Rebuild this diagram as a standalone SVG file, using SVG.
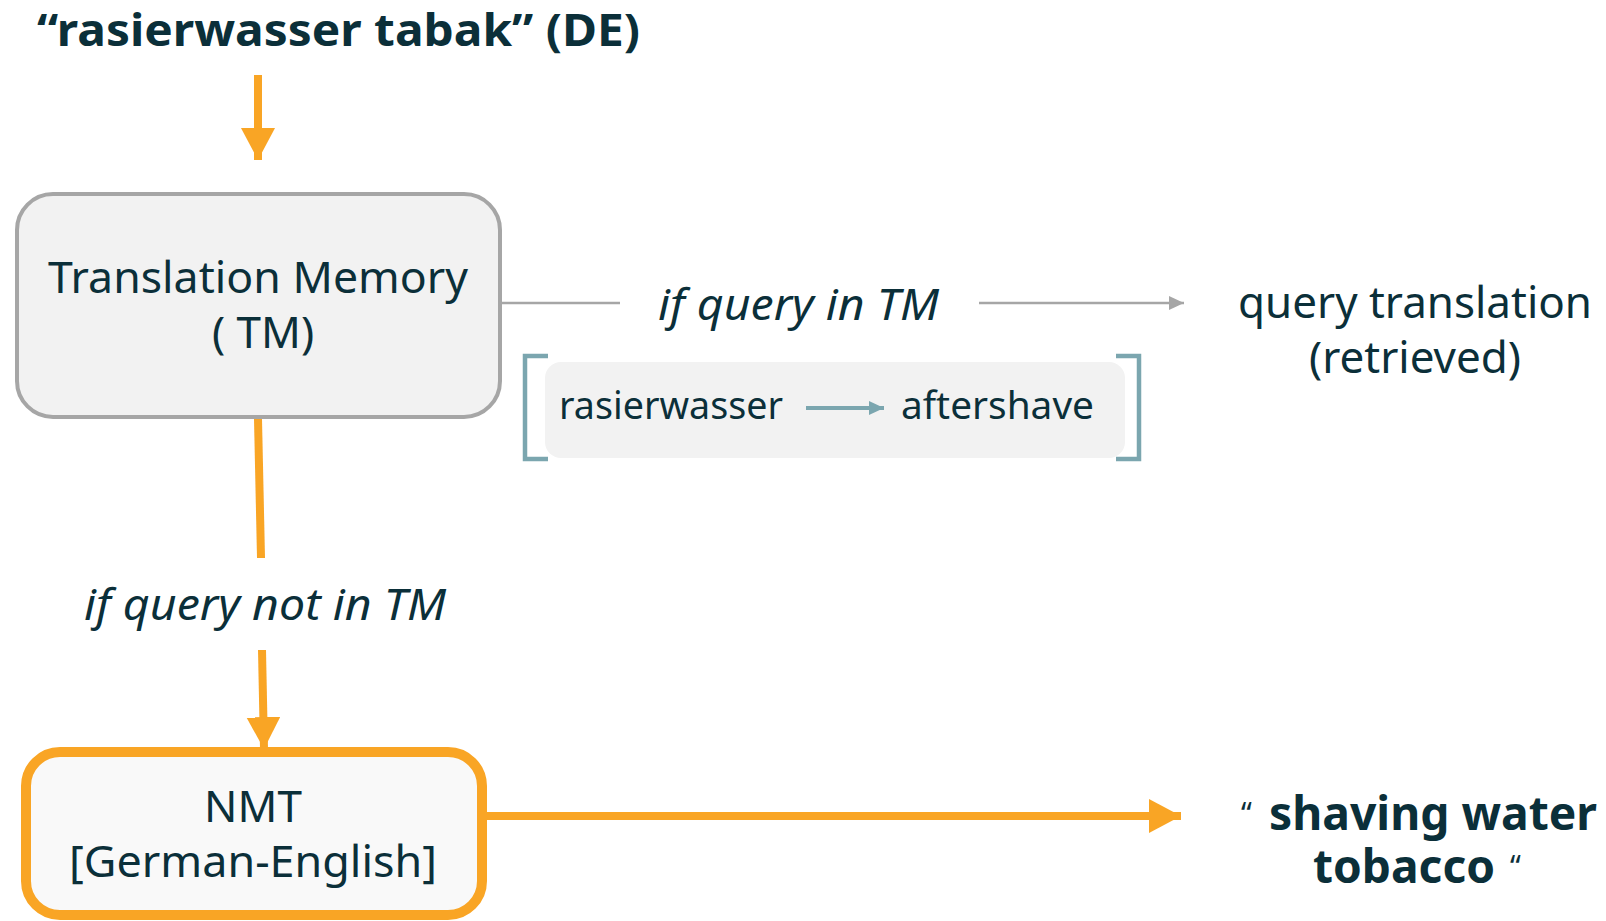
<svg xmlns="http://www.w3.org/2000/svg" width="1606" height="921" viewBox="0 0 1606 921">
<style>
text{font-family:"Noto Sans","Open Sans","Liberation Sans",sans-serif;fill:#0b2f39}
.big{font-size:44px}
.it{font-style:italic;font-size:44px}
.b{font-weight:bold}
.sm{font-size:38px}
.or{stroke:#f9a525;stroke-width:8;fill:none}
</style>
<defs>
<marker id="ao" markerUnits="userSpaceOnUse" markerWidth="34" markerHeight="34" refX="32" refY="17" orient="auto"><path d="M0,0 L32,17 L0,34 Z" fill="#f9a525"/></marker>
<marker id="ag" markerUnits="userSpaceOnUse" markerWidth="16" markerHeight="14" refX="15" refY="7" orient="auto"><path d="M0,0 L15,7 L0,14 Z" fill="#a6a6a6"/></marker>
<marker id="at" markerUnits="userSpaceOnUse" markerWidth="16" markerHeight="14" refX="15" refY="7" orient="auto"><path d="M0,0 L15,7 L0,14 Z" fill="#7ba6af"/></marker>
</defs>

<g id="title">
<text class="b" x="37" y="46" font-size="44" textLength="603" lengthAdjust="spacingAndGlyphs">“rasierwasser tabak” (DE)</text>
</g>

<g id="connectors">
<line class="or" x1="258" y1="75" x2="258" y2="160" marker-end="url(#ao)"/>
<line x1="502" y1="303" x2="620" y2="303" stroke="#a6a6a6" stroke-width="2.5"/>
<line x1="979" y1="303" x2="1184" y2="303" stroke="#a6a6a6" stroke-width="2.5" marker-end="url(#ag)"/>
<line class="or" x1="258" y1="419" x2="261" y2="558"/>
<line class="or" x1="262" y1="650" x2="264" y2="749" marker-end="url(#ao)"/>
<line class="or" x1="484" y1="816" x2="1181" y2="816" marker-end="url(#ao)"/>
</g>

<g id="tm">
<rect x="17" y="194" width="483" height="223" rx="36" fill="#f2f2f2" stroke="#a6a6a6" stroke-width="4"/>
<text class="big" x="258" y="293" text-anchor="middle" textLength="420" lengthAdjust="spacingAndGlyphs">Translation Memory</text>
<text class="big" x="263" y="348" text-anchor="middle">( TM)</text>
</g>

<g id="label-in">
<text class="it" x="658" y="320" textLength="281" lengthAdjust="spacingAndGlyphs">if query in TM</text>
</g>

<g id="retrieved">
<text class="big" x="1415" y="318" text-anchor="middle" textLength="354" lengthAdjust="spacingAndGlyphs">query translation</text>
<text class="big" x="1415" y="373" text-anchor="middle">(retrieved)</text>
</g>

<g id="example">
<rect x="545" y="362" width="580" height="96" rx="16" fill="#f2f2f2"/>
<path d="M548,356 H525 V459 H548" fill="none" stroke="#7ba6af" stroke-width="4.5"/>
<path d="M1116,356 H1139 V459 H1116" fill="none" stroke="#7ba6af" stroke-width="4.5"/>
<text class="sm" x="559" y="419" textLength="224" lengthAdjust="spacingAndGlyphs">rasierwasser</text>
<line x1="806" y1="408" x2="884" y2="408" stroke="#7ba6af" stroke-width="4" marker-end="url(#at)"/>
<text class="sm" x="901" y="419" textLength="193" lengthAdjust="spacingAndGlyphs">aftershave</text>
</g>

<g id="label-not-in">
<text class="it" x="84" y="620" textLength="362" lengthAdjust="spacingAndGlyphs">if query not in TM</text>
</g>

<g id="nmt">
<rect x="26" y="752" width="456" height="163" rx="34" fill="#f9f9f9" stroke="#f9a525" stroke-width="10"/>
<text class="big" x="253" y="822" text-anchor="middle">NMT</text>
<text class="big" x="253" y="877" text-anchor="middle" textLength="368" lengthAdjust="spacingAndGlyphs">[German-English]</text>
</g>

<g id="output">
<text font-size="46"><tspan x="1241" y="824" font-size="30">“</tspan><tspan class="b" x="1269" y="830" textLength="328" lengthAdjust="spacingAndGlyphs">shaving water</tspan><tspan class="b" x="1313" y="883" textLength="182" lengthAdjust="spacingAndGlyphs">tobacco</tspan><tspan x="1510" y="877" font-size="30">“</tspan></text>
</g>
</svg>
